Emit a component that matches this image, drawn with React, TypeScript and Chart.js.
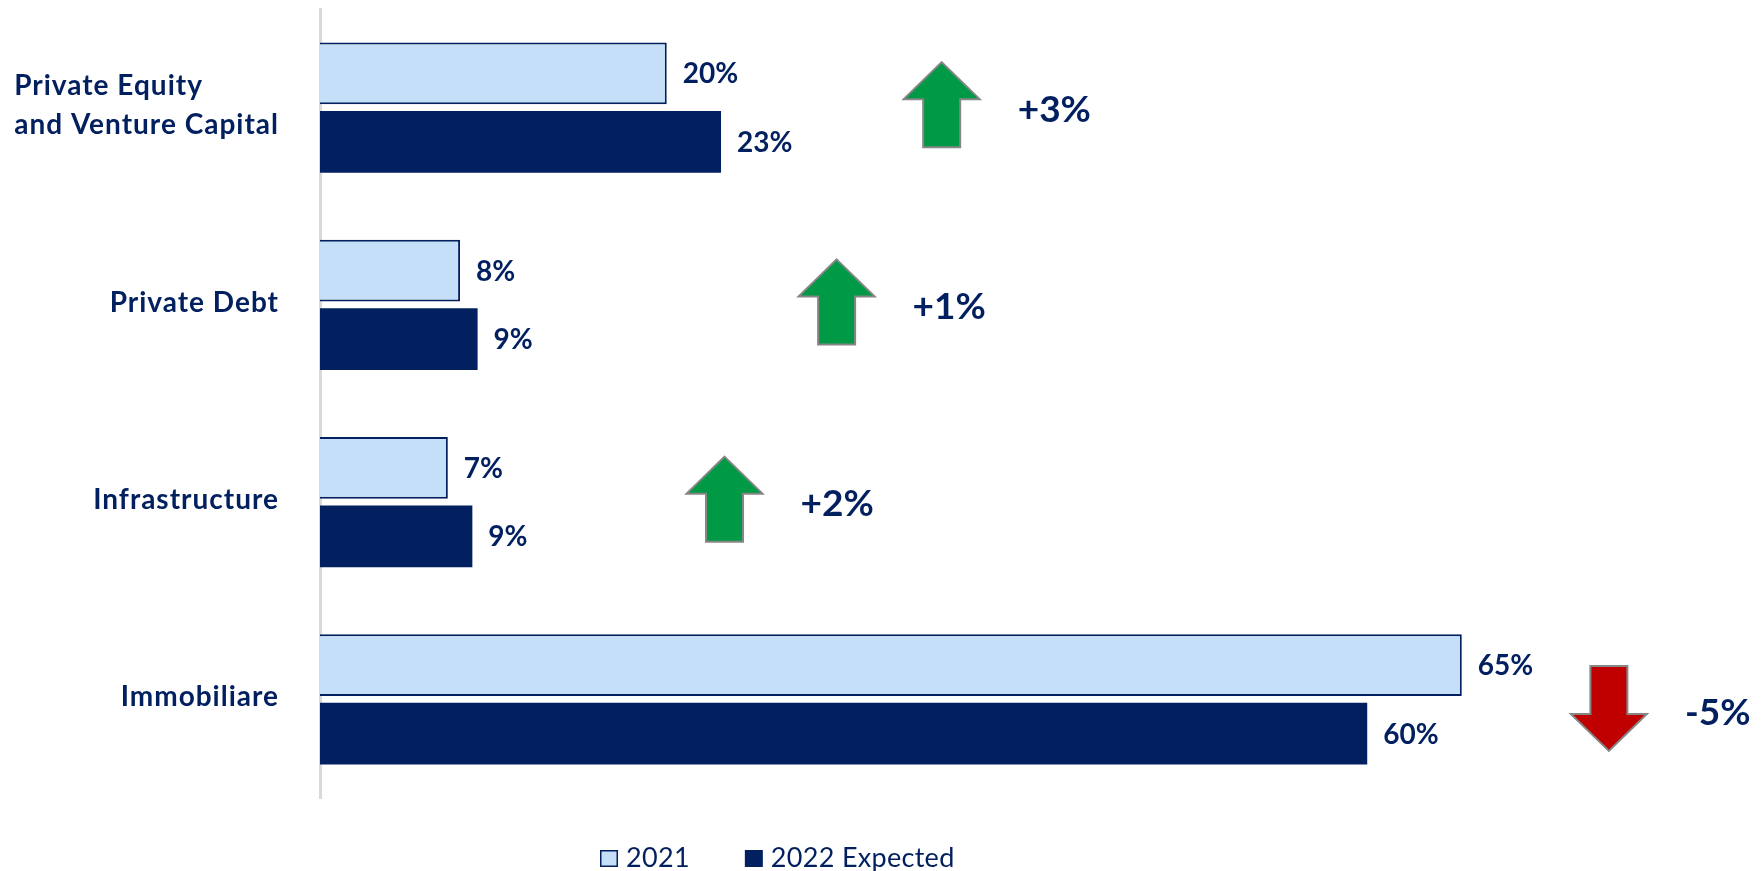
import React, { useEffect, useRef } from "react";
import { Chart, registerables } from "chart.js";

Chart.register(...registerables);

const categories: string[][] = [
  ["Private Equity", "and Venture Capital"],
  ["Private Debt"],
  ["Infrastructure"],
  ["Immobiliare"],
];
const seriesNames = ["2021", "2022 Expected"];
const values2021 = [19.8, 8.0, 7.3, 65.2];
const values2022 = [22.9, 9.0, 8.7, 59.8];
const changeLabels = ["+3%", "+1%", "+2%", "-5%"];
const changeDirections = ["up", "up", "up", "down"];
const arrowValues = [35.5, 29.5, 23.1, 73.6];

const NAVY = "#02205F";
const LIGHT = "#C6DFF8";
const GREEN = "#009A46";
const RED = "#C00000";
const FONT = "Lato, 'Open Sans', sans-serif";

const overlayPlugin = {
  id: "overlay",
  afterDraw(chart: any) {
    const ctx = chart.ctx;
    const xs = chart.scales.x;
    const ys = chart.scales.y;
    ctx.save();

    // category labels
    ctx.font = `bold 28px ${FONT}`;
    ctx.fillStyle = NAVY;
    ctx.textBaseline = "middle";
    ctx.textAlign = "left";
    try { ctx.letterSpacing = "1px"; } catch (e) {}
    const rightEdge = chart.chartArea.left - 41;
    const lh = 39;
    categories.forEach((lines, i) => {
      const cy = ys.getPixelForValue(i) - 2;
      const w = Math.max(...lines.map((l) => ctx.measureText(l).width));
      const x0 = rightEdge - w;
      lines.forEach((l, j) => {
        ctx.fillText(l, x0, cy + (j - (lines.length - 1) / 2) * lh);
      });
    });
    try { ctx.letterSpacing = "0px"; } catch (e) {}

    // data labels
    ctx.font = `bold 28px ${FONT}`;
    chart.data.datasets.forEach((ds: any, di: number) => {
      const meta = chart.getDatasetMeta(di);
      meta.data.forEach((el: any, i: number) => {
        ctx.fillText(Math.round(ds.data[i]) + "%", el.x + 16, el.y + 1);
      });
    });

    // arrows + change labels
    const H = 85, HH = 37, HW = 38, SW = 18.5;
    changeLabels.forEach((lab, i) => {
      const up = changeDirections[i] === "up";
      const cx = xs.getPixelForValue(arrowValues[i]);
      const cy = ys.getPixelForValue(i) + (up ? -3 : 9);
      ctx.beginPath();
      if (up) {
        const top = cy - H / 2, base = top + HH, bot = cy + H / 2;
        ctx.moveTo(cx, top);
        ctx.lineTo(cx + HW, base);
        ctx.lineTo(cx + SW, base);
        ctx.lineTo(cx + SW, bot);
        ctx.lineTo(cx - SW, bot);
        ctx.lineTo(cx - SW, base);
        ctx.lineTo(cx - HW, base);
      } else {
        const top = cy - H / 2, bot = cy + H / 2, base = bot - HH;
        ctx.moveTo(cx - SW, top);
        ctx.lineTo(cx + SW, top);
        ctx.lineTo(cx + SW, base);
        ctx.lineTo(cx + HW, base);
        ctx.lineTo(cx, bot);
        ctx.lineTo(cx - HW, base);
        ctx.lineTo(cx - SW, base);
      }
      ctx.closePath();
      ctx.fillStyle = up ? GREEN : RED;
      ctx.fill();
      ctx.lineWidth = 2;
      ctx.strokeStyle = "#868686";
      ctx.stroke();

      ctx.fillStyle = NAVY;
      ctx.font = `bold 37px ${FONT}`;
      ctx.textAlign = "left";
      ctx.textBaseline = "middle";
      ctx.fillText(lab, cx + 76, cy + 5);
    });

    // legend
    ctx.font = `27px ${FONT}`;
    try { ctx.letterSpacing = "0.3px"; } catch (e) {}
    const ly = 858;
    let lx = 600;
    const colors = [LIGHT, NAVY];
    seriesNames.forEach((name, k) => {
      ctx.fillStyle = colors[k];
      ctx.fillRect(lx, ly - 8, 18, 17);
      if (k === 0) {
        ctx.strokeStyle = NAVY;
        ctx.lineWidth = 1.5;
        ctx.strokeRect(lx + 0.75, ly - 7.25, 16.5, 15.5);
      }
      ctx.fillStyle = NAVY;
      ctx.textAlign = "left";
      ctx.textBaseline = "middle";
      ctx.fillText(name, lx + 26, ly);
      lx += 26 + ctx.measureText(name).width + 55;
    });
    try { ctx.letterSpacing = "0px"; } catch (e) {}

    ctx.restore();
  },
};

export default function App() {
  const ref = useRef<HTMLCanvasElement>(null);
  useEffect(() => {
    if (!ref.current) return;
    const chart = new Chart(ref.current, {
      type: "bar",
      data: {
        labels: categories,
        datasets: [
          {
            label: seriesNames[0],
            data: values2021,
            backgroundColor: LIGHT,
            borderColor: NAVY,
            borderWidth: 2,
            categoryPercentage: 0.695,
            barPercentage: 0.898,
          },
          {
            label: seriesNames[1],
            data: values2022,
            backgroundColor: NAVY,
            borderWidth: 0,
            categoryPercentage: 0.695,
            barPercentage: 0.898,
          },
        ],
      },
      options: {
        indexAxis: "y",
        responsive: false,
        animation: false,
        layout: { padding: { top: 9, bottom: 73, left: 0, right: 8 } },
        plugins: { legend: { display: false }, tooltip: { enabled: false } },
        scales: {
          x: { display: false, min: 0, max: 82 },
          y: {
            grid: { display: false },
            border: { display: true, color: "#D9D9D9", width: 3 },
            ticks: { display: false },
            afterFit: (s: any) => {
              s.width = 320;
            },
          },
        },
      },
      plugins: [overlayPlugin],
    });
    return () => chart.destroy();
  }, []);
  return (
    <div style={{ position: "absolute", left: 0, top: 0, width: 1764, height: 871 }}>
      <canvas ref={ref} width={1764} height={871} style={{ display: "block" }} />
    </div>
  );
}
